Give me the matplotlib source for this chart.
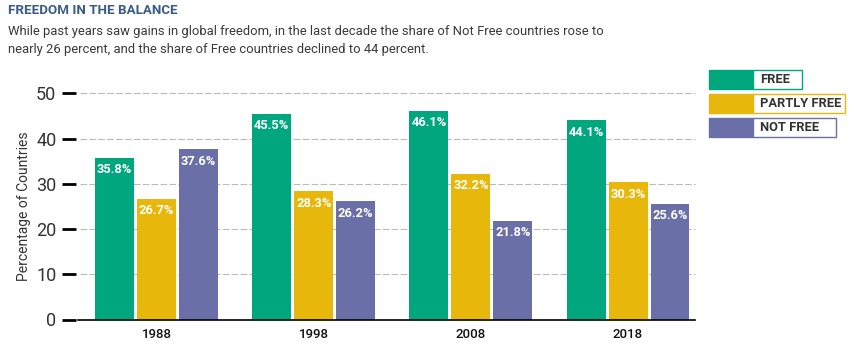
import numpy as np
import matplotlib.pyplot as plt
from matplotlib.patches import Rectangle

plt.rcParams["font.family"] = ["Roboto", "DejaVu Sans"]

years = ["1988", "1998", "2008", "2018"]
series_names = ["FREE", "PARTLY FREE", "NOT FREE"]
free = [35.8, 45.5, 46.1, 44.1]
partly_free = [26.7, 28.3, 32.2, 30.3]
not_free = [37.6, 26.2, 21.8, 25.6]
y_ticks = [0, 10, 20, 30, 40, 50]

colors = ["#00a67e", "#e8b70b", "#6a6fa8"]
text_color = "#333333"

fig = plt.figure(figsize=(8.58, 3.56), dpi=100)
ax = fig.add_axes([80 / 858, 1 - 319.5 / 356, 615 / 858, (319.5 - 93.3) / 356])

x = np.arange(len(years))
width = 0.248
step = 0.267
for i, (vals, color) in enumerate(zip([free, partly_free, not_free], colors)):
    pos = x + (i - 1) * step
    ax.bar(pos, vals, width=width, color=color, zorder=3)
    for px, v in zip(pos, vals):
        ax.annotate(f"{v}%", (px, v), xytext=(0, -4), textcoords="offset points",
                    ha="center", va="top", color="white", fontsize=9.3,
                    fontweight="bold", zorder=4)

ax.set_xlim(-0.487, 3.426)
ax.set_ylim(0, 50)
ax.set_yticks(y_ticks)
ax.set_xticks(x)
ax.set_xticklabels(years, fontsize=9.5, fontweight="medium", color="#111111")
ax.tick_params(axis="x", length=0, pad=6)
ax.tick_params(axis="y", length=10, width=2, color="black", pad=4,
               labelsize=13, labelcolor=text_color)

for s in ["top", "right", "bottom"]:
    ax.spines[s].set_visible(False)
ax.spines["left"].set_position(("outward", 3))
ax.spines["left"].set_visible(False)

for t in y_ticks[1:]:
    ax.axhline(t, color="#bbbbbb", linewidth=0.8, linestyle=(0, (6, 2)), zorder=1, clip_on=False)
ax.axhline(0, color="black", linewidth=1.2, zorder=5, xmin=-0.004, xmax=1.0, clip_on=False)

ax.set_ylabel("Percentage of Countries", fontsize=10, color=text_color)
ax.yaxis.set_label_coords(-0.08, 0.5)

fig.text(8 / 858, 1 - 11 / 356, "FREEDOM IN THE BALANCE", fontsize=9.6, fontweight="bold",
         color="#3c5c85", va="center", ha="left")
fig.text(8 / 858, 1 - 32 / 356,
         "While past years saw gains in global freedom, in the last decade the share of Not Free countries rose to",
         fontsize=9.4, color="#3a3a3a", va="center", ha="left")
fig.text(8 / 858, 1 - 50 / 356,
         "nearly 26 percent, and the share of Free countries declined to 44 percent.",
         fontsize=9.4, color="#3a3a3a", va="center", ha="left")

# legend drawn as boxes in figure coordinates
leg_tops = [70, 94, 118]
leg_ends = [802, 845, 836]
for name, color, top, end in zip(series_names, colors, leg_tops, leg_ends):
    h = 19
    y0 = 1 - (top + h) / 356
    fig.patches.append(Rectangle((709 / 858, y0), 44 / 858, h / 356, transform=fig.transFigure,
                                 facecolor=color, edgecolor=color, linewidth=1))
    fig.patches.append(Rectangle((753 / 858, y0), (end - 753) / 858, h / 356, transform=fig.transFigure,
                                 facecolor="white", edgecolor=color, linewidth=1))
    fig.text(760 / 858, y0 + h / 2 / 356, name, fontsize=9.3, fontweight="bold",
             color=text_color, va="center", ha="left")

fig.savefig("out.png", dpi=100)
